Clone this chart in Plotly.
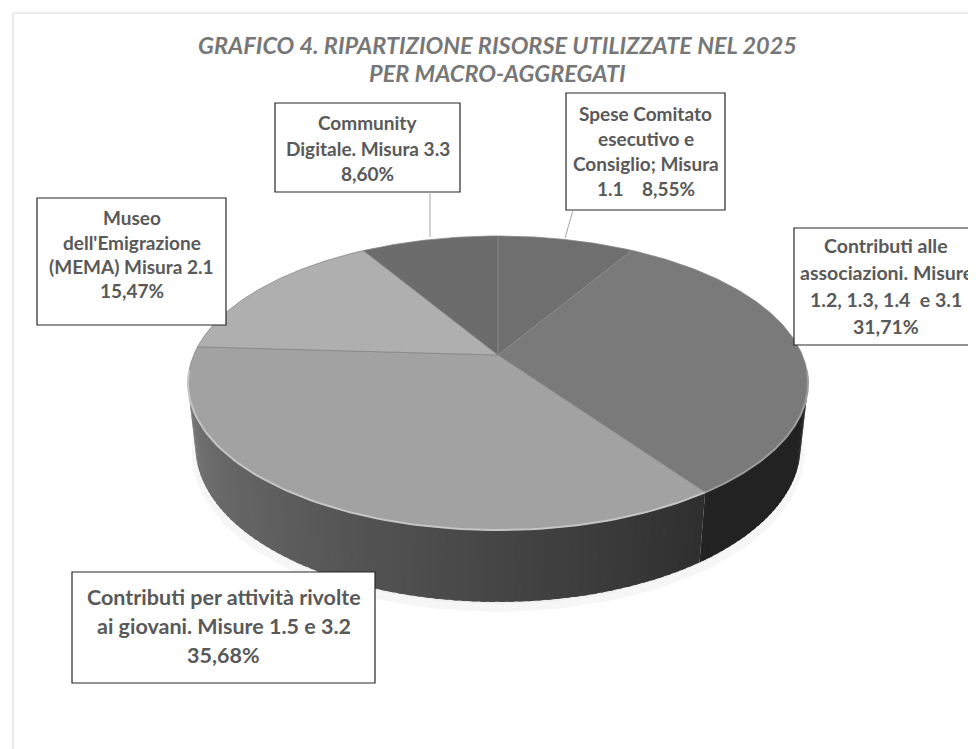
import numpy as np
import plotly.graph_objects as go

# ---------------- data ----------------
categories = [
    "Spese Comitato esecutivo e Consiglio; Misura 1.1",
    "Contributi alle associazioni. Misure 1.2, 1.3, 1.4 e 3.1",
    "Contributi per attività rivolte ai giovani. Misure 1.5 e 3.2",
    "Museo dell'Emigrazione (MEMA) Misura 2.1",
    "Community Digitale. Misura 3.3",
]
values = [8.55, 31.71, 35.68, 15.47, 8.60]
label_lines = [
    ["Spese Comitato", "esecutivo e", "Consiglio; Misura", "1.1\u00a0\u00a0\u00a0\u00a0{pct}"],
    ["Contributi alle", "associazioni. Misure", "1.2, 1.3, 1.4\u00a0\u00a0e 3.1", "{pct}"],
    ["Contributi per attività rivolte", "ai giovani. Misure 1.5 e 3.2", "{pct}"],
    ["Museo", "dell'Emigrazione", "(MEMA) Misura 2.1", "{pct}"],
    ["Community", "Digitale. Misura 3.3", "{pct}"],
]
title_lines = ["GRAFICO 4. RIPARTIZIONE RISORSE UTILIZZATE NEL 2025", "PER MACRO-AGGREGATI"]

# ---------------- style ----------------
top_gray = [0x6f, 0x7a, 0xa2, 0xaf, 0x6c]
W, Hpx = 976, 749
OFF = 8  # page body margin
TEXT = "#595959"

# label box layout: (x0, y0, x1, y1), line y-positions, font size
boxes = [
    ((566, 93, 725, 210), [113, 138, 163, 188], 19),
    ((794, 228, 1000, 345), [245, 272, 299, 326], 19.5),
    ((72, 572, 375, 683), [597, 626, 655], 21.5),
    ((37, 198, 226, 325), [217, 242, 266, 290], 19),
    ((275, 103, 460, 192), [122, 148, 173], 19),
]
text_cx = [645.5, 886, 223.5, 131.5, 367.5]
connectors = [((573, 210), (565, 238)), None, None, None, ((430, 192), (430, 237))]

# camera for the 3-D pie (pixel space)
CX, CY = 498.0, 355.0
F, D, SA, CA, HZ = 1413.9, 4.646, 0.4655, 0.885, 0.238


def proj(t, z=0.0):
    r = np.radians(t)
    X, Y = np.sin(r), np.cos(r)
    depth = D + Y * CA - z * SA
    yc = Y * SA + z * CA
    return CX + F * X / depth, CY - F * yc / depth


def gray(v):
    v = int(max(0, min(255, round(v))))
    return f"rgb({v},{v},{v})"


fig = go.Figure()

total = sum(values)
cum = np.concatenate([[0], np.cumsum(values)]) / total * 360.0

# soft shadow
tt = np.linspace(0, 360, 200)
sx, sy = proj(tt, -HZ)
fig.add_trace(go.Scatter(x=sx, y=sy + 6, fill="toself", fillcolor="#efefef",
                         line=dict(color="#f6f6f6", width=8), mode="lines",
                         hoverinfo="skip", showlegend=False))

# visible side range
tv0 = np.degrees(np.arccos(-1.0 / (D * CA)))
tv1 = 360.0 - tv0


def light(t):
    return float(np.clip(0.29 + 0.45 * (t - 145.0) / 114.0, 0.28, 0.76))


for i in range(len(values)):
    a0, a1 = max(cum[i], tv0), min(cum[i + 1], tv1)
    if a1 <= a0:
        continue
    n = max(1, int(np.ceil((a1 - a0) / 1.5)))
    edges = np.linspace(a0, a1, n + 1)
    for j in range(n):
        s0, s1 = edges[j], min(edges[j + 1] + (0.8 if j < n - 1 else 0.0), a1)
        ts = np.linspace(s0, s1, 4)
        xt, yt = proj(ts, 0.0)
        xb, yb = proj(ts[::-1], -HZ)
        c = gray(top_gray[i] * light((edges[j] + edges[j + 1]) / 2))
        fig.add_trace(go.Scatter(x=np.concatenate([xt, xb]), y=np.concatenate([yt, yb]),
                                 fill="toself", fillcolor=c, line=dict(width=0),
                                 mode="lines", hoverinfo="skip", showlegend=False))

# top faces
for i in range(len(values)):
    ts = np.linspace(cum[i], cum[i + 1], 120)
    xs, ys = proj(ts, 0.0)
    fig.add_trace(go.Scatter(x=np.concatenate([[CX], xs, [CX]]), y=np.concatenate([[CY], ys, [CY]]),
                             fill="toself", fillcolor=gray(top_gray[i]),
                             line=dict(color="rgba(135,135,135,0.8)", width=1),
                             mode="lines", name=categories[i], hoverinfo="name",
                             showlegend=False))

# rim highlight on the front edge
for i in range(len(values)):
    a0, a1 = max(cum[i], tv0 - 8), min(cum[i + 1], tv1 + 8)
    if a1 <= a0:
        continue
    ts = np.linspace(a0, a1, 80)
    xs, ys = proj(ts, 0.0)
    fig.add_trace(go.Scatter(x=xs, y=ys, mode="lines",
                             line=dict(color=gray(top_gray[i] + 35), width=2),
                             hoverinfo="skip", showlegend=False))

shapes = [dict(type="rect", x0=13, y0=13, x1=1010, y1=800, line=dict(color="#d9d9d9", width=1),
               layer="below")]
annotations = []
for i, ((x0, y0, x1, y1), ly, fs) in enumerate(boxes):
    shapes.append(dict(type="rect", x0=x0, y0=y0, x1=x1, y1=y1, fillcolor="white",
                       line=dict(color="#262626", width=1.2), layer="above"))
    pct = f"{values[i]:.2f}%".replace(".", ",")
    for line, yy in zip(label_lines[i], ly):
        annotations.append(dict(x=text_cx[i], y=yy, xref="x", yref="y", showarrow=False,
                                text="<b>" + line.format(pct=pct) + "</b>",
                                font=dict(family="Lato", size=fs, color=TEXT),
                                xanchor="center", yanchor="middle"))
    if connectors[i]:
        (ax, ay), (bx, by) = connectors[i]
        shapes.append(dict(type="line", x0=ax, y0=ay, x1=bx, y1=by,
                           line=dict(color="#a6a6a6", width=1)))

for line, yy in zip(title_lines, [45, 73]):
    annotations.append(dict(x=497, y=yy, xref="x", yref="y", showarrow=False,
                            text="<b><i>" + line + "</i></b>",
                            font=dict(family="Lato", size=23.5, color="#777777"),
                            xanchor="center", yanchor="middle"))

fig.update_layout(
    width=W, height=Hpx, margin=dict(l=0, r=0, t=0, b=0),
    paper_bgcolor="white", plot_bgcolor="white",
    xaxis=dict(range=[OFF, W + OFF], visible=False, fixedrange=True),
    yaxis=dict(range=[Hpx + OFF, OFF], visible=False, fixedrange=True),
    shapes=shapes, annotations=annotations, showlegend=False,
)
fig.write_html("out.html")
